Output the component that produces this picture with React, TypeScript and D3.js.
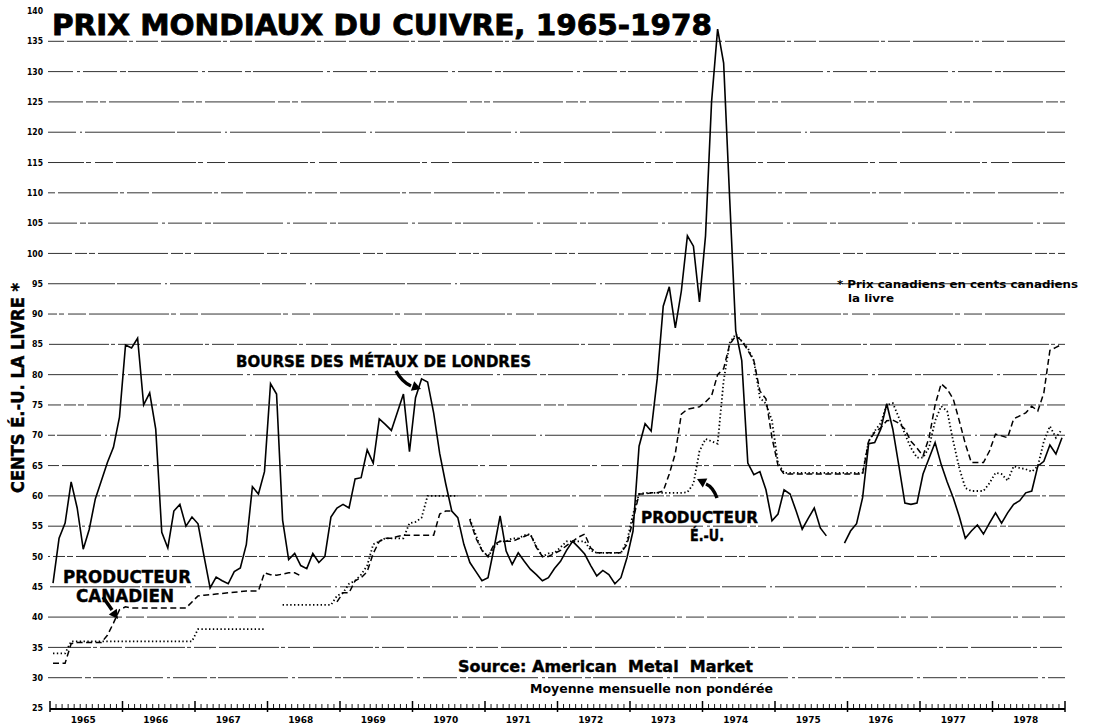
import React from "react";
import * as d3 from "d3";

// ---- data (monthly, Jan 1965 - Dec 1978), cents per pound ----
const years = [1965, 1966, 1967, 1968, 1969, 1970, 1971, 1972, 1973, 1974, 1975, 1976, 1977, 1978];

// London Metal Exchange (solid)
const lme1965 = [45.6, 53, 55.5, 62.3, 58, 51.2, 54.5, 59.5, 62.5, 65.5, 68, 73];
const lme1966 = [84.9, 84.4, 86, 75, 77, 71, 54, 51.4, 57.5, 58.6, 55, 56.5];
const lme1967 = [55.4, 50, 44.8, 46.6, 46, 45.5, 47.5, 48.1, 52, 61.5, 60.3, 64];
const lme1968 = [78.5, 76.8, 56, 49.5, 50.5, 48.5, 48, 50.5, 49, 50, 56.5, 58];
const lme1969 = [58.6, 58, 62.8, 63, 67.6, 65.4, 72.7, 71.8, 70.8, 73.8, 76.8, 67.3];
const lme1970 = [76.2, 79.3, 78.8, 73.7, 67, 62, 57.5, 56.4, 52, 49, 47.5, 46];
const lme1971 = [46.5, 51.4, 56.7, 50.9, 48.7, 50.6, 49.2, 47.9, 47, 46, 46.5, 48];
const lme1972 = [49.2, 51, 52.5, 51.5, 50.4, 48.5, 46.8, 47.7, 47, 45.5, 46.5, 49.8];
const lme1973 = [54.2, 68.2, 71.9, 70.7, 79.3, 91.3, 94.5, 87.7, 93.8, 102.9, 101.2, 92];
const lme1974 = [102.9, 125, 137, 131.4, 109, 87.2, 82.3, 65.4, 63.5, 64, 61, 55.9];
const lme1975 = [57, 61, 60.3, 57.5, 54.5, 56.3, 58, 54.7, 53.4, null, null, 52.2];
const lme1976 = [54.2, 55.4, 59.7, 68.6, 68.8, 71, 75.2, 71, 65, 58.8, 58.6, 58.8];
const lme1977 = [63.6, 66.2, 68.8, 65.2, 62.3, 59.7, 56.6, 53, 54.2, 55.2, 53.7, 55.5];
const lme1978 = [57.2, 55.5, 57.2, 58.6, 59.2, 60.5, 60.8, 64.9, 65.7, 68.4, 66.9, 69.6];

// U.S. producer (dotted)
const us1965 = [34, 34, 34, 36, 36, 36, 36, 36, 36, 36, 36, 36];
const us1966 = [36, 36, 36, 36, 36, 36, 36, 36, 36, 36, 36, 36];
const us1967 = [38, 38, 38, 38, 38, 38, 38, 38, 38, 38, 38, 38];
const us1968 = [null, null, 42, 42, 42, 42, 42, 42, 42, 42, 42, 43.5];
const us1969 = [44, 45.5, 46, 47, 48.5, 52, 52.5, 53, 53, 53, 53, 55.5];
const us1970 = [55.7, 56.4, 60, 60, 60, 60, 60, 60, null, 56.2, 53.5, 51];
const us1971 = [50, 51.5, 52.5, 52.5, 53, 53, 53.5, 53.7, 51.7, 50, 50.5, 50.6];
const us1972 = [51.5, 52.5, 52.5, 52.5, 52.5, 51, 50.6, 50.6, 50.6, 50.6, 50.6, 52.5];
const us1973 = [57, 60.3, 60.5, 60.5, 60.5, 60.5, 60.5, 60.5, 60.5, 60.6, 62, 67.4];
const us1974 = [69.4, 69, 68.6, 79, 85.2, 86.7, 85.5, 84.4, 82.3, 76.2, 75.2, 72.4];
const us1975 = [65.4, 63.8, 63.8, 63.8, 63.8, 63.8, 63.8, 63.8, 63.8, 63.8, 63.8, 63.8];
const us1976 = [63.8, 63.8, 63.8, 69, 70.7, 72, 75, 75.3, 72.9, 70.2, 67.9, 66.3];
const us1977 = [66.3, 68, 72.4, 74.8, 74, 69, 64.6, 61.3, 60.8, 60.8, 60.8, 62.1];
const us1978 = [63.8, 63.6, 62.5, 64.9, 64.6, 64.4, 64, 64.9, 69, 71.5, 69.6, 71];

// Canadian producer (dashed)
const ca1965 = [32.4, 32.4, 32.4, 35.6, 35.8, 35.8, 35.8, 35.8, 35.8, 37, 39, 41.2];
const ca1966 = [41.7, 41.5, 41.5, 41.5, 41.5, 41.5, 41.5, 41.5, 41.5, 41.5, 41.5, 42.5];
const ca1967 = [43.5, 43.6, 43.7, 43.8, 43.9, 44, 44.1, 44.2, 44.3, 44.3, 44.3, 47.3];
const ca1968 = [47, 46.9, 47.1, 47.3, 47.3, 46.8, null, null, null, null, null, 42.5];
const ca1969 = [44, 44, 46, 46.5, 47.5, 50.5, 52.5, 53, 53, 53.3, 53.5, 53.5];
const ca1970 = [53.5, 53.5, 53.5, 53.5, 57, 57.5, 57.5, null, null, 56, 53, 51];
const ca1971 = [50, 52, 52.5, 52.5, 52.5, 52.9, 53.3, 53.7, 51.5, 50, 50, 50.5];
const ca1972 = [51, 51.8, 52.5, 53.2, 53.7, 51.4, 50.6, 50.6, 50.6, 50.6, 50.6, 52];
const ca1973 = [56, 60.3, 60.3, 60.5, 60.5, 60.8, 63.6, 67, 73.5, 74.3, 74.5, 74.7];
const ca1974 = [75.5, 76.5, 80, 81, 85, 86.4, 85.6, 84, 82.3, 77.3, 76, 69.6];
const ca1975 = [65, 63.6, 63.6, 63.6, 63.6, 63.6, 63.6, 63.6, 63.6, 63.6, 63.6, 63.6];
const ca1976 = [63.6, 63.6, 63.6, 69, 70.5, 71.2, 72.4, 72.5, 72, 71, 69, 67.9];
const ca1977 = [66.6, 69.6, 75, 78.5, 77.6, 76, 72.4, 68.6, 65.5, 65.5, 65.5, 67.4];
const ca1978 = [70.2, 69.9, 69.6, 72.7, 73.2, 73.7, 74.8, 74, 77, 84, 84.5, 85];

const yTicks = [25, 30, 35, 40, 45, 50, 55, 60, 65, 70, 75, 80, 85, 90, 95, 100, 105, 110, 115, 120, 125, 130, 135, 140];
const gridValues = [30, 35, 40, 45, 50, 55, 60, 65, 70, 75, 80, 85, 90, 95, 100, 105, 110, 115, 120, 125, 130, 135];

const lmeSeries = [lme1965, lme1966, lme1967, lme1968, lme1969, lme1970, lme1971, lme1972, lme1973, lme1974, lme1975, lme1976, lme1977, lme1978].flat();
const usSeries = [us1965, us1966, us1967, us1968, us1969, us1970, us1971, us1972, us1973, us1974, us1975, us1976, us1977, us1978].flat();
const caSeries = [ca1965, ca1966, ca1967, ca1968, ca1969, ca1970, ca1971, ca1972, ca1973, ca1974, ca1975, ca1976, ca1977, ca1978].flat();

const W = 1096;
const H = 725;
const FONT = "'DejaVu Sans', 'Liberation Sans', Arial, sans-serif";

const x = d3.scaleLinear().domain([1965, 1979]).range([50, 1065]);
const y = d3.scaleLinear().domain([25, 140]).range([708, 11]);

type Pt = { t: number; v: number | null };
const toPts = (arr: (number | null)[]): Pt[] =>
  arr.map((v, i) => ({ t: 1965 + (i + 0.5) / 12, v }));

const line = d3
  .line<Pt>()
  .defined((d) => d.v !== null)
  .x((d) => x(d.t))
  .y((d) => y(d.v as number));

const gridDash = ["34 3 6 2 70 4 3 3", "60 2 4 3 22 3", "18 3 80 2 5 4", "44 4 2 3 90 2", "70 3 12 2 6 3"];

const heavy = { fontWeight: "bold" as const, stroke: "#000", strokeWidth: 0.4 };

export default function App() {
  const monthTicks = d3.range(0, 14 * 12 + 1).map((i) => 1965 + i / 12);
  const axisY = 709;
  return (
    <svg
      width={W}
      height={H}
      style={{ position: "absolute", left: 0, top: 0, background: "#fff" }}
      fontFamily={FONT}
    >
      <rect width={W} height={H} fill="#fff" />
      {/* gridlines */}
      {gridValues.map((g, i) => (
        <line
          key={g}
          x1={48}
          x2={1065}
          y1={y(g)}
          y2={y(g)}
          stroke="#333"
          strokeWidth={1}
          strokeDasharray={gridDash[i % gridDash.length]}
          strokeDashoffset={i * 17}
        />
      ))}
      {/* y tick labels */}
      {yTicks.map((t) => (
        <text
          key={t}
          x={43}
          y={y(t)}
          dy="0.35em"
          textAnchor="end"
          fontSize={t === 140 ? 8 : 9}
          fontWeight="bold"
          fill="#000"
          textLength={t >= 100 ? 16 : 11}
          lengthAdjust="spacingAndGlyphs"
        >
          {t}
        </text>
      ))}
      {/* y axis title */}
      <text
        transform={`translate(24,388) rotate(-90)`}
        textAnchor="middle"
        fontSize={17}
        textLength={210}
        lengthAdjust="spacingAndGlyphs"
        {...heavy}
      >
        CENTS É.-U. LA LIVRE *
      </text>
      {/* bottom axis */}
      <line x1={50} x2={1065} y1={axisY} y2={axisY} stroke="#000" strokeWidth={2} />
      {monthTicks.map((t, i) => (
        <line
          key={i}
          x1={x(t)}
          x2={x(t)}
          y1={i % 12 === 0 ? axisY - 8 : axisY - 5}
          y2={i % 12 === 0 ? axisY + 3 : axisY}
          stroke="#000"
          strokeWidth={i % 12 === 0 ? 1.5 : 0.9}
        />
      ))}
      {years.map((yr) => (
        <text
          key={yr}
          x={x(yr + 0.5) - 3}
          y={723}
          textAnchor="middle"
          fontSize={9}
          fontWeight="bold"
          textLength={25}
          lengthAdjust="spacingAndGlyphs"
        >
          {yr}
        </text>
      ))}
      {/* series */}
      <path d={line(toPts(caSeries)) || ""} fill="none" stroke="#000" strokeWidth={1.5} strokeDasharray="6 3.5" />
      <path d={line(toPts(usSeries)) || ""} fill="none" stroke="#000" strokeWidth={1.8} strokeDasharray="1.4 2.4" />
      <path d={line(toPts(lmeSeries)) || ""} fill="none" stroke="#000" strokeWidth={1.6} strokeLinejoin="miter" />
      {/* title */}
      <text x={52} y={35} fontSize={28} textLength={660} lengthAdjust="spacingAndGlyphs" {...heavy} strokeWidth={0.8}>
        PRIX MONDIAUX DU CUIVRE, 1965-1978
      </text>
      {/* annotations */}
      <text x={236} y={367} fontSize={16} textLength={295} lengthAdjust="spacingAndGlyphs" {...heavy}>
        BOURSE DES MÉTAUX DE LONDRES
      </text>
      <path d="M396,371 Q402,382 411,386" fill="none" stroke="#000" strokeWidth={3.5} />
      <polygon points="421,389 410.9,390.7 414.2,381.3" fill="#000" />

      <text x={63} y={583} fontSize={17} textLength={128} lengthAdjust="spacingAndGlyphs" {...heavy}>
        PRODUCTEUR
      </text>
      <text x={76} y={602} fontSize={17} textLength={98} lengthAdjust="spacingAndGlyphs" {...heavy}>
        CANADIEN
      </text>
      <path d="M103,597 L112,610" fill="none" stroke="#000" strokeWidth={3.5} />
      <polygon points="118,619 108.8,614.6 116.8,608.8" fill="#000" />

      <text x={641} y={523} fontSize={16} textLength={117} lengthAdjust="spacingAndGlyphs" {...heavy}>
        PRODUCTEUR
      </text>
      <text x={690} y={541} fontSize={16} textLength={34} lengthAdjust="spacingAndGlyphs" {...heavy}>
        É.-U.
      </text>
      <path d="M717,498 Q713,487 706,484" fill="none" stroke="#000" strokeWidth={3.5} />
      <polygon points="697,479 707.3,478.6 702.8,487.5" fill="#000" />

      <text x={837} y={288} fontSize={11} fontWeight="bold" textLength={241} lengthAdjust="spacingAndGlyphs">
        * Prix canadiens en cents canadiens
      </text>
      <text x={848} y={302} fontSize={11} fontWeight="bold" textLength={46} lengthAdjust="spacingAndGlyphs">
        la livre
      </text>

      <text
        x={458}
        y={672}
        fontSize={16}
        textLength={295}
        lengthAdjust="spacingAndGlyphs"
        style={{ whiteSpace: "pre" }}
        {...heavy}
      >
        {"Source: American  Metal  Market"}
      </text>
      <text x={530} y={693} fontSize={12.5} fontWeight="bold" textLength={243} lengthAdjust="spacingAndGlyphs">
        Moyenne mensuelle non pondérée
      </text>
    </svg>
  );
}
